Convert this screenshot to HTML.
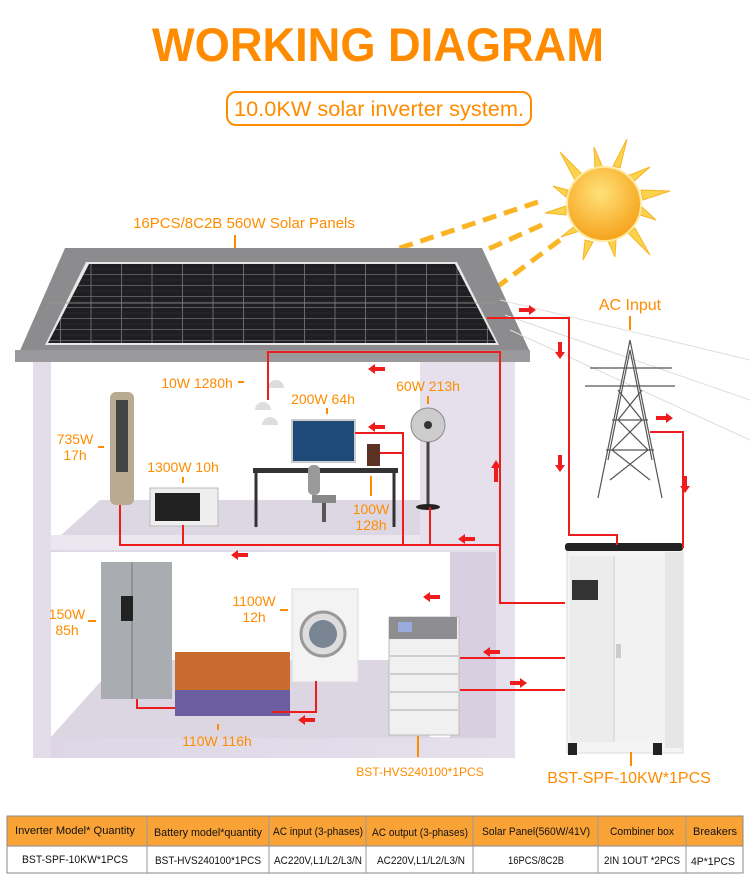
<!DOCTYPE html>
<html><head><meta charset="utf-8"><style>
html,body{margin:0;padding:0;background:#fff;width:750px;height:892px;overflow:hidden}
svg text{font-family:"Liberation Sans",sans-serif}
</style></head><body>
<svg width="750" height="892" viewBox="0 0 750 892" xmlns="http://www.w3.org/2000/svg">
<defs>
<radialGradient id="sun" cx="45%" cy="35%" r="65%"><stop offset="0" stop-color="#ffe27a"/><stop offset="1" stop-color="#f6a21a"/></radialGradient>
<linearGradient id="wall" x1="0" y1="0" x2="1" y2="0"><stop offset="0" stop-color="#ddd6e6"/><stop offset="1" stop-color="#e6e0ec"/></linearGradient>
<pattern id="cells" width="30.5" height="11" patternUnits="userSpaceOnUse"><rect width="30.5" height="11" fill="#1f1f21"/><line x1="0" y1="10.5" x2="30.5" y2="10.5" stroke="#5a5a5e" stroke-width="1"/><line x1="30" y1="0" x2="30" y2="11" stroke="#6a6a6e" stroke-width="1"/><line x1="0" y1="5" x2="30" y2="5" stroke="#333" stroke-width="0.6"/></pattern>
</defs>

<text x="378" y="61" font-size="47" font-weight="bold" fill="#ff8c00" text-anchor="middle" textLength="452" lengthAdjust="spacingAndGlyphs">WORKING DIAGRAM</text>
<rect x="227" y="92" width="304" height="33" rx="9" fill="none" stroke="#ff8c00" stroke-width="2"/>
<text x="379" y="116" font-size="21" fill="#ff8c00" text-anchor="middle" textLength="290" lengthAdjust="spacingAndGlyphs">10.0KW solar inverter system.</text>

<g fill="#fbd24c" stroke="#f7b52a" stroke-width="1">
<polygon points="560,152 583,175 575,180"/><polygon points="594,147 603,168 595,170"/><polygon points="627,139 620,168 613,166"/><polygon points="650,167 632,183 627,176"/>
<polygon points="670,191 643,200 641,190"/><polygon points="656,220 640,215 642,207"/><polygon points="650,255 628,233 635,228"/><polygon points="615,257 608,241 616,240"/>
<polygon points="583,260 585,240 593,242"/><polygon points="561,237 577,224 580,231"/><polygon points="545,213 566,206 566,215"/><polygon points="553,186 568,190 566,197"/>
</g>
<circle cx="604" cy="204" r="37" fill="url(#sun)" stroke="#fde9a0" stroke-width="2"/>
<g stroke="#f9b526" stroke-width="5" stroke-dasharray="14,8" fill="none">
<line x1="538" y1="202" x2="340" y2="268"/><line x1="542" y1="225" x2="385" y2="295"/><line x1="560" y1="240" x2="450" y2="322"/>
</g>

<text x="244" y="228" font-size="15" fill="#ff8c00" text-anchor="middle">16PCS/8C2B 560W Solar Panels</text>
<line x1="235" y1="235" x2="235" y2="248" stroke="#ff8c00" stroke-width="2"/>

<rect x="33" y="360" width="482" height="398" fill="url(#wall)"/>
<rect x="50" y="360" width="446" height="185" fill="#fff"/>
<polygon points="50,545 496,545 496,500 100,500" fill="#ddd7e3"/>
<rect x="50" y="535" width="446" height="15" fill="#ebe6f0"/>
<rect x="50" y="552" width="446" height="185" fill="#fff"/>
<polygon points="50,738 430,738 430,660 120,660" fill="#dcd5e2"/>
<rect x="140" y="552" width="120" height="70" fill="#fff"/>
<rect x="450" y="552" width="46" height="186" fill="#d8d0e0"/>
<rect x="420" y="360" width="76" height="185" fill="#e6e0ec"/>
<rect x="33" y="360" width="18" height="398" fill="#e3dde9"/>

<polygon points="15,362 65,248 482,248 530,352 530,362" fill="#8c8c8e"/>
<rect x="15" y="350" width="515" height="12" fill="#9a9a9c"/>
<polygon points="45,345 86,262 457,262 499,345" fill="#e8e8e8"/>
<polygon points="48,343 89,264 455,264 496,343" fill="url(#cells)"/>
<line x1="50" y1="303" x2="494" y2="303" stroke="#9a9a9a" stroke-width="0.8"/>

<g stroke="#ddd" stroke-width="1"><line x1="500" y1="300" x2="750" y2="360"/><line x1="505" y1="315" x2="750" y2="400"/><line x1="510" y1="330" x2="750" y2="440"/></g>

<g stroke="#555" stroke-width="1.2" fill="none">
<polyline points="598,498 630,340 662,498"/><polyline points="608,460 630,350 652,460"/>
<line x1="590" y1="368" x2="672" y2="368"/><line x1="585" y1="386" x2="675" y2="386"/>
<path d="M612,420 L648,420 M606,450 L654,450 M618,390 L642,420 L612,450 L650,480 M642,390 L618,420 L648,450 L610,480"/>
</g>
<text x="630" y="310" font-size="16" fill="#ff8c00" text-anchor="middle">AC Input</text>
<line x1="630" y1="316" x2="630" y2="330" stroke="#ff8c00" stroke-width="2"/>

<rect x="567" y="545" width="116" height="208" fill="#f4f4f4" stroke="#ddd"/>
<rect x="565" y="543" width="118" height="8" rx="3" fill="#222"/>
<rect x="665" y="552" width="18" height="196" fill="#e6e6e6"/>
<rect x="570" y="556" width="43" height="186" fill="#ececec"/>
<rect x="614" y="556" width="50" height="186" fill="#f2f2f2"/>
<line x1="614" y1="556" x2="614" y2="742" stroke="#ccc"/>
<rect x="572" y="580" width="26" height="20" fill="#333"/>
<rect x="616" y="644" width="5" height="14" fill="#ccc"/>
<rect x="568" y="743" width="9" height="12" fill="#222"/><rect x="653" y="743" width="9" height="12" fill="#222"/>
<line x1="631" y1="752" x2="631" y2="766" stroke="#ff8c00" stroke-width="2"/>
<text x="629" y="783" font-size="16" fill="#ff8c00" text-anchor="middle">BST-SPF-10KW*1PCS</text>

<rect x="389" y="617" width="70" height="118" fill="#f0f0f0" stroke="#bbb"/>
<rect x="389" y="617" width="68" height="22" fill="#8e8e90"/>
<rect x="398" y="622" width="14" height="10" fill="#9ad"/>
<g stroke="#aaa"><line x1="390" y1="656" x2="458" y2="656"/><line x1="390" y1="674" x2="458" y2="674"/><line x1="390" y1="692" x2="458" y2="692"/><line x1="390" y1="710" x2="458" y2="710"/></g>
<line x1="418" y1="736" x2="418" y2="757" stroke="#ff8c00" stroke-width="2"/>
<text x="420" y="776" font-size="12" fill="#ff8c00" text-anchor="middle">BST-HVS240100*1PCS</text>

<rect x="110" y="392" width="24" height="113" rx="6" fill="#b9aa92"/><rect x="116" y="400" width="12" height="72" fill="#444"/>
<rect x="150" y="488" width="68" height="38" fill="#eee" stroke="#bbb"/><rect x="155" y="493" width="45" height="28" fill="#222"/>
<rect x="292" y="420" width="63" height="42" fill="#1e4a7a" stroke="#ccc" stroke-width="2"/>
<rect x="253" y="468" width="145" height="5" fill="#333"/><line x1="256" y1="473" x2="256" y2="527" stroke="#333" stroke-width="3"/><line x1="394" y1="473" x2="394" y2="527" stroke="#333" stroke-width="3"/>
<rect x="308" y="465" width="12" height="30" rx="5" fill="#999"/><rect x="312" y="495" width="24" height="8" fill="#888"/><line x1="324" y1="503" x2="324" y2="522" stroke="#555" stroke-width="4"/>
<rect x="367" y="444" width="13" height="22" fill="#5b3224"/>
<circle cx="428" cy="425" r="17" fill="#ccc" stroke="#888"/><circle cx="428" cy="425" r="4" fill="#333"/><line x1="428" y1="442" x2="428" y2="505" stroke="#444" stroke-width="3"/><ellipse cx="428" cy="507" rx="12" ry="3" fill="#222"/>
<g fill="#ddd"><path d="M255,410 a8,8 0 0 1 16,0 z"/><path d="M268,388 a8,8 0 0 1 16,0 z"/><path d="M262,425 a8,8 0 0 1 16,0 z"/></g>
<g stroke="#ff8c00" stroke-width="2"><line x1="238" y1="382" x2="244" y2="382"/><line x1="327" y1="408" x2="327" y2="414"/><line x1="428" y1="396" x2="428" y2="404"/><line x1="98" y1="447" x2="104" y2="447"/><line x1="183" y1="477" x2="183" y2="483"/><line x1="371" y1="476" x2="371" y2="496"/><line x1="88" y1="621" x2="96" y2="621"/><line x1="280" y1="610" x2="288" y2="610"/><line x1="218" y1="724" x2="218" y2="730"/></g>
<g font-size="14" fill="#ff8c00" text-anchor="middle">
<text x="197" y="388">10W 1280h</text><text x="323" y="404">200W 64h</text><text x="428" y="391">60W 213h</text>
<text x="75" y="444">735W</text><text x="75" y="460">17h</text><text x="183" y="472">1300W 10h</text>
<text x="371" y="514">100W</text><text x="371" y="530">128h</text>
<text x="67" y="619">150W</text><text x="67" y="635">85h</text><text x="254" y="606">1100W</text><text x="254" y="622">12h</text>
<text x="217" y="746">110W 116h</text>
</g>

<rect x="101" y="562" width="71" height="137" fill="#a9adb1"/><line x1="132" y1="562" x2="132" y2="699" stroke="#777"/><rect x="121" y="596" width="12" height="25" fill="#222"/>
<rect x="175" y="652" width="115" height="64" fill="#c96a2e"/><rect x="175" y="690" width="115" height="26" fill="#6a5da0"/>
<rect x="292" y="589" width="66" height="93" fill="#f3f3f3" stroke="#ddd"/><circle cx="323" cy="634" r="22" fill="#ddd" stroke="#999" stroke-width="3"/><circle cx="323" cy="634" r="14" fill="#7a8593"/>

<g stroke="#ee1c1c" stroke-width="2" fill="none">
<polyline points="487,318 569,318 569,535 617,535 617,545"/>
<polyline points="650,432 683,432 683,548"/>
<polyline points="268,400 268,352 500,352 500,603 565,603"/>
<polyline points="120,505 120,545 500,545"/>
<line x1="183" y1="525" x2="183" y2="545"/>
<polyline points="355,433 403,433 403,545"/><line x1="380" y1="453" x2="403" y2="453"/>
<line x1="430" y1="507" x2="430" y2="545"/>
<polyline points="460,658 565,658"/><polyline points="460,690 565,690"/>
<polyline points="137,699 137,708 175,708"/><polyline points="272,712 316,712 316,681"/>
</g>
<g fill="#ee1c1c">
<path d="M519,308h10v-3l7,5-7,5v-3h-10z"/>
<path d="M558,342v10h-3l5,7 5-7h-3v-10z"/><path d="M558,455v10h-3l5,7 5-7h-3v-10z"/>
<path d="M683,476v10h-3l5,7 5-7h-3v-10z"/>
<path d="M656,416h10v-3l7,5-7,5v-3h-10z"/>
<path d="M385,367h-10v-3l-7,5 7,5v-3h10z"/><path d="M385,425h-10v-3l-7,5 7,5v-3h10z"/>
<path d="M475,537h-10v-3l-7,5 7,5v-3h10z"/><path d="M248,553h-10v-3l-7,5 7,5v-3h10z"/>
<path d="M494,482v-14h-3l5,-8 5,8h-3v14z"/>
<path d="M440,595h-10v-3l-7,5 7,5v-3h10z"/>
<path d="M500,650h-10v-3l-7,5 7,5v-3h10z"/><path d="M510,681h10v-3l7,5-7,5v-3h-10z"/>
<path d="M315,718h-10v-3l-7,5 7,5v-3h10z"/>
</g>

<g font-size="11" fill="#111" text-anchor="middle">
<rect x="7" y="816" width="736" height="30" fill="#f9a236"/>
<rect x="7" y="816" width="736" height="57" fill="none" stroke="#888" stroke-width="1"/>
<line x1="7" y1="846" x2="743" y2="846" stroke="#888"/>
<g stroke="#999"><line x1="147" y1="816" x2="147" y2="873"/><line x1="269" y1="816" x2="269" y2="873"/><line x1="366" y1="816" x2="366" y2="873"/><line x1="473" y1="816" x2="473" y2="873"/><line x1="598" y1="816" x2="598" y2="873"/><line x1="686" y1="816" x2="686" y2="873"/></g>
<text x="75" y="834" textLength="120" lengthAdjust="spacingAndGlyphs">Inverter Model* Quantity</text><text x="208" y="836" textLength="108" lengthAdjust="spacingAndGlyphs">Battery model*quantity</text><text x="318" y="835" textLength="90" lengthAdjust="spacingAndGlyphs">AC input (3-phases)</text><text x="420" y="836" textLength="96" lengthAdjust="spacingAndGlyphs">AC output (3-phases)</text><text x="536" y="835" textLength="108" lengthAdjust="spacingAndGlyphs">Solar Panel(560W/41V)</text><text x="642" y="835" textLength="64" lengthAdjust="spacingAndGlyphs">Combiner box</text><text x="715" y="835" textLength="44" lengthAdjust="spacingAndGlyphs">Breakers</text>
<text x="75" y="863" textLength="106" lengthAdjust="spacingAndGlyphs">BST-SPF-10KW*1PCS</text><text x="208" y="864" textLength="106" lengthAdjust="spacingAndGlyphs">BST-HVS240100*1PCS</text><text x="318" y="864" textLength="88" lengthAdjust="spacingAndGlyphs">AC220V,L1/L2/L3/N</text><text x="421" y="864" textLength="88" lengthAdjust="spacingAndGlyphs">AC220V,L1/L2/L3/N</text><text x="536" y="864" textLength="56" lengthAdjust="spacingAndGlyphs">16PCS/8C2B</text><text x="642" y="864" textLength="76" lengthAdjust="spacingAndGlyphs">2IN 1OUT *2PCS</text><text x="713" y="865" textLength="44" lengthAdjust="spacingAndGlyphs">4P*1PCS</text>
</g>
</svg>
</body></html>
